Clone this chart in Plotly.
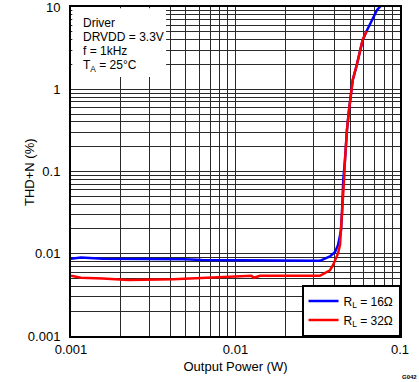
import plotly.graph_objects as go

# Data (Output Power in W, THD+N in %)
x_16 = [0.001, 0.00115, 0.00156, 0.00493, 0.00625, 0.00888, 0.01864, 0.0326,
        0.0375, 0.0403, 0.0420, 0.0432, 0.0438, 0.0444, 0.0452, 0.0463,
        0.0476, 0.0490, 0.0497, 0.0516, 0.0546, 0.0571, 0.0593, 0.0627,
        0.0673, 0.0725, 0.0760, 0.0790]
y_16 = [0.0087, 0.0090, 0.0087, 0.0086, 0.0084, 0.0084, 0.0083, 0.0082,
        0.0093, 0.0105, 0.0128, 0.0168, 0.0194, 0.032, 0.079, 0.138,
        0.32, 0.56, 0.74, 1.3, 1.97, 3.0, 3.97, 5.1,
        6.95, 9.2, 10.2, 11.5]

x_32 = [0.001, 0.00115, 0.00156, 0.00222, 0.00417, 0.0084, 0.0125, 0.0129,
        0.0141, 0.0326, 0.0375, 0.0392, 0.0403, 0.0420, 0.0432, 0.0438,
        0.0444, 0.0450, 0.0457, 0.0463, 0.0476, 0.0490, 0.0497, 0.0516,
        0.0546, 0.0571, 0.0593, 0.0627]
y_32 = [0.0054, 0.0051, 0.0050, 0.0048, 0.0049, 0.0052, 0.0054, 0.0051,
        0.0054, 0.0054, 0.0063, 0.0073, 0.0084, 0.0101, 0.0128, 0.0194,
        0.0257, 0.045, 0.079, 0.138, 0.32, 0.56, 0.74, 1.3,
        1.97, 3.0, 3.97, 5.1]

x_ticks = [0.001, 0.01, 0.1]
x_ticktext = ["0.001", "0.01", "0.1"]
y_ticks = [0.001, 0.01, 0.1, 1, 10]
y_ticktext = ["0.001", "0.01", "0.1", "1", "10"]

x_minor = [m * 10 ** e for e in (-3, -2) for m in range(2, 10)]
y_minor = [m * 10 ** e for e in (-3, -2, -1, 0) for m in range(2, 10)]

FONT = "Liberation Sans, Arial, sans-serif"
GRID = "#2a2a2a"

fig = go.Figure()
fig.add_trace(go.Scatter(x=x_16, y=y_16, mode="lines", name="R<sub>L</sub> = 16Ω",
                         line=dict(color="#0000ff", width=2.5)))
fig.add_trace(go.Scatter(x=x_32, y=y_32, mode="lines", name="R<sub>L</sub> = 32Ω",
                         line=dict(color="#ff0000", width=2.5)))

fig.update_layout(
    width=419, height=382,
    margin=dict(l=71, r=19, t=7, b=46),
    paper_bgcolor="white", plot_bgcolor="white",
    font=dict(family=FONT, size=13, color="black"),
    showlegend=True,
    legend=dict(x=1, y=0, xanchor="right", yanchor="bottom",
                bgcolor="white", bordercolor="black", borderwidth=1.5,
                font=dict(size=12), itemwidth=30, tracegroupgap=0),
    xaxis=dict(type="log", range=[-3, -1], tickmode="array",
               tickvals=x_ticks, ticktext=x_ticktext, automargin=False,
               ticklabeloverflow="allow",
               showgrid=True, gridcolor=GRID, gridwidth=1.2,
               minor=dict(tickmode="array", tickvals=x_minor, showgrid=True,
                          gridcolor=GRID, gridwidth=1.2),
               showline=True, linecolor="black", linewidth=2, mirror=True,
               ticks="", zeroline=False, tickfont=dict(size=13),
               title=dict(text="Output Power (W)", standoff=6, font=dict(size=13))),
    yaxis=dict(type="log", range=[-3, 1], tickmode="array",
               tickvals=y_ticks, ticktext=y_ticktext, automargin=False,
               ticklabeloverflow="allow",
               showgrid=True, gridcolor=GRID, gridwidth=1.2,
               minor=dict(tickmode="array", tickvals=y_minor, showgrid=True,
                          gridcolor=GRID, gridwidth=1.2),
               showline=True, linecolor="black", linewidth=2, mirror=True,
               ticks="", zeroline=False, ticklabelstandoff=6, tickfont=dict(size=13)),
)

# Y-axis title placed as rotated text
fig.add_annotation(text="THD+N (%)", xref="paper", yref="paper",
                   x=-0.1246, y=0.4985, xanchor="center", yanchor="middle",
                   textangle=-90, showarrow=False, font=dict(size=13, color="black"))

# White box behind the condition text
fig.add_shape(type="rect", xref="x domain", yref="y domain",
              x0=0.004, x1=0.289, y0=0.787, y1=0.996,
              fillcolor="white", line=dict(width=0), layer="above")

cond_lines = ["Driver", "DRVDD = 3.3V", "f = 1kHz", "T<sub>A</sub> = 25°C"]
cond_y = [0.952, 0.909, 0.866, 0.821]
for txt, yy in zip(cond_lines, cond_y):
    fig.add_annotation(text=txt, xref="x domain", yref="y domain",
                       x=0.030, y=yy, xanchor="left", yanchor="middle",
                       showarrow=False, font=dict(size=12, color="black"))

fig.add_annotation(text="<b>G042</b>", xref="paper", yref="paper", x=1.03, y=-0.125,
                   xanchor="center", yanchor="middle",
                   showarrow=False, font=dict(size=6, color="black"))

fig.write_html("out.html", config={"displayModeBar": False},
               post_script="document.body.style.margin='0';document.body.style.padding='0';")
